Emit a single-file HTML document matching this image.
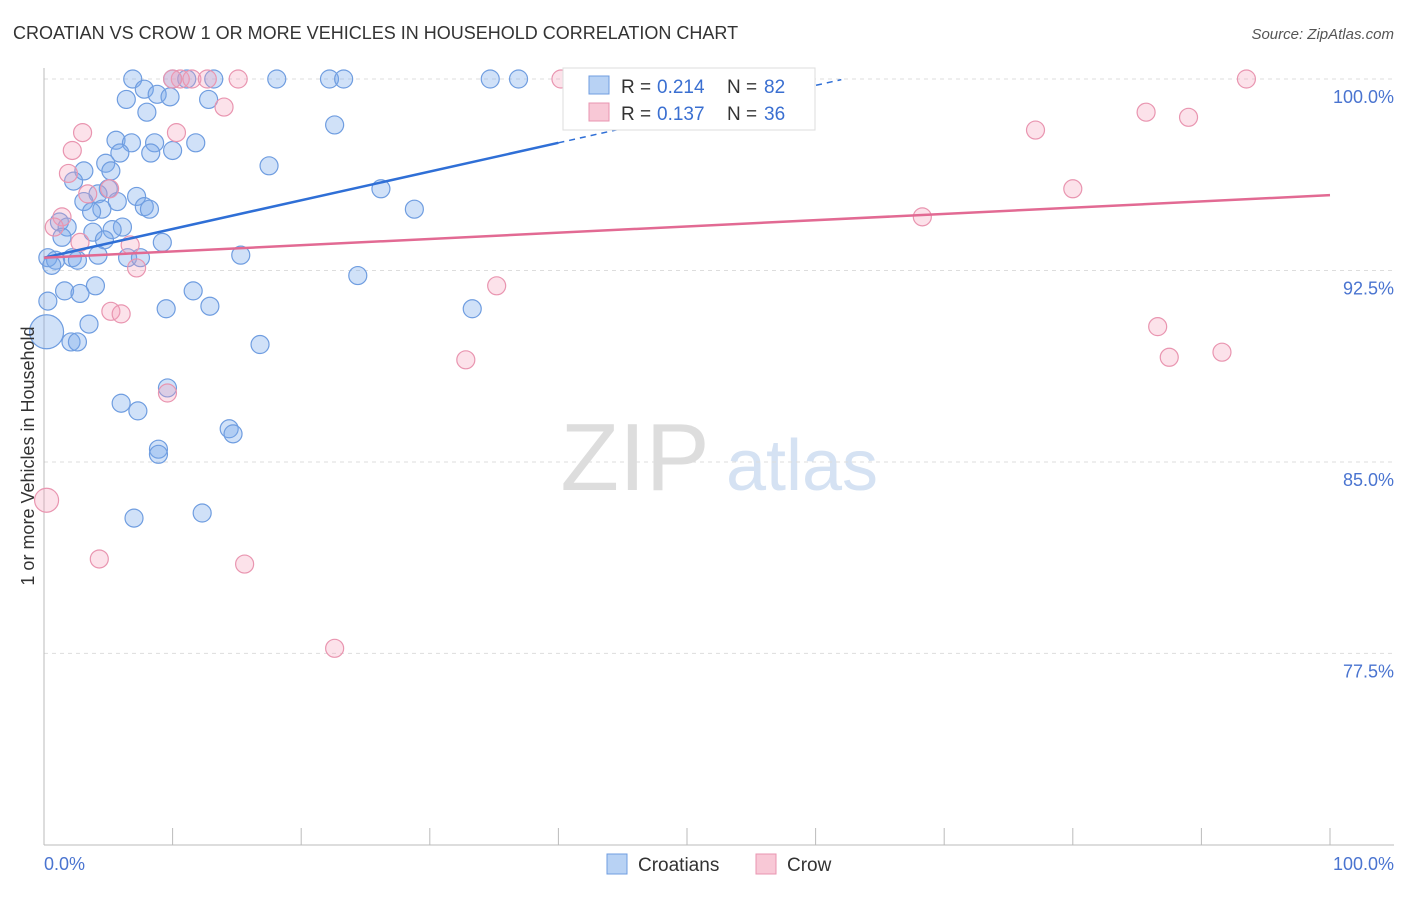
<!DOCTYPE html>
<html><head><meta charset="utf-8">
<style>
body{margin:0;background:#fff;font-family:"Liberation Sans",sans-serif;}
svg text{font-family:"Liberation Sans",sans-serif;}
</style></head>
<body>
<svg id="chart" width="1406" height="892" xmlns="http://www.w3.org/2000/svg">
<text x="13" y="39" font-size="18" fill="#333">CROATIAN VS CROW 1 OR MORE VEHICLES IN HOUSEHOLD CORRELATION CHART</text>
<text x="1394" y="39" font-size="15" fill="#555" text-anchor="end" font-style="italic">Source: ZipAtlas.com</text>
<g>
<text x="635" y="490" font-size="96" fill="#ddd" font-family="Liberation Serif" text-anchor="middle">ZIP</text>
<text x="802" y="490" font-size="72" fill="#d5e2f3" text-anchor="middle">atlas</text>
</g>
<g id="grid"></g>
<g id="axes"></g>
<g id="points"></g>
<g id="trends"></g>
<text transform="translate(34,456) rotate(-90)" font-size="18" fill="#333" text-anchor="middle">1 or more Vehicles in Household</text>
<text x="44" y="870" font-size="18" fill="#4a74d0">0.0%</text>
<text x="1394" y="870" font-size="18" fill="#4a74d0" text-anchor="end">100.0%</text>
<g>
<rect x="563" y="68" width="252" height="62" fill="#fff" stroke="#ddd"/>
<rect x="589" y="76" width="20" height="18" fill="#b8d2f4" stroke="#6f9de0"/>
<text x="621" y="93" font-size="19" fill="#333">R = </text>
<text x="657" y="93" font-size="19" fill="#3a6fd1">0.214</text>
<text x="727" y="93" font-size="19" fill="#333">N = </text>
<text x="764" y="93" font-size="19" fill="#3a6fd1">82</text>
<rect x="589" y="103" width="20" height="18" fill="#f8c8d6" stroke="#e995b0"/>
<text x="621" y="120" font-size="19" fill="#333">R = </text>
<text x="657" y="120" font-size="19" fill="#3a6fd1">0.137</text>
<text x="727" y="120" font-size="19" fill="#333">N = </text>
<text x="764" y="120" font-size="19" fill="#3a6fd1">36</text>
</g>
<g>
<rect x="607" y="854" width="20" height="20" fill="#b8d2f4" stroke="#6f9de0"/>
<text x="638" y="871" font-size="19" fill="#333">Croatians</text>
<rect x="756" y="854" width="20" height="20" fill="#f8c8d6" stroke="#e995b0"/>
<text x="787" y="871" font-size="19" fill="#333">Crow</text>
</g>
</svg>
<script>
const yTicks=[100,92.5,85,77.5];
const yTickLabels=["100.0%","92.5%","85.0%","77.5%"];
const xTicks=[0,10,20,30,40,50,60,70,80,90,100];
const blueX=[6.9,10.0,11.1,13.2,18.1,22.2,23.3,34.7,36.9,7.8,8.8,6.4,9.8,12.8,8.0,22.6,5.6,6.8,8.6,11.8,5.9,8.3,10.0,4.8,3.1,5.2,17.5,2.3,5.0,7.2,4.2,3.1,5.7,7.8,8.2,4.5,3.7,26.2,28.8,1.2,1.8,6.1,5.3,3.8,1.4,4.7,9.2,0.3,0.9,2.2,2.6,4.2,6.5,7.5,15.3,0.6,4.0,1.6,2.8,11.6,24.4,0.3,9.5,12.9,33.3,3.5,0.2,2.1,2.6,16.8,9.6,6.0,7.3,14.4,14.7,8.9,8.9,7.0,12.3];
const blueY=[100,100,100,100,100,100,100,100,100,99.6,99.4,99.2,99.3,99.2,98.7,98.2,97.6,97.5,97.5,97.5,97.1,97.1,97.2,96.7,96.4,96.4,96.6,96.0,95.7,95.4,95.5,95.2,95.2,95.0,94.9,94.9,94.8,95.7,94.9,94.4,94.2,94.2,94.1,94.0,93.8,93.7,93.6,93.0,92.9,93.0,92.9,93.1,93.0,93.0,93.1,92.7,91.9,91.7,91.6,91.7,92.3,91.3,91.0,91.1,91.0,90.4,90.1,89.7,89.7,89.6,87.9,87.3,87.0,86.3,86.1,85.5,85.3,82.8,83.0];
const blueR=[9,9,9,9,9,9,9,9,9,9,9,9,9,9,9,9,9,9,9,9,9,9,9,9,9,9,9,9,9,9,9,9,9,9,9,9,9,9,9,9,9,9,9,9,9,9,9,9,9,9,9,9,9,9,9,9,9,9,9,9,9,9,9,9,9,9,17,9,9,9,9,9,9,9,9,9,9,9,9];
const pinkX=[10.6,11.5,12.7,15.1,40.2,93.5,14.0,85.7,89.0,77.1,3.0,10.3,2.2,1.9,5.1,3.4,80.0,1.4,0.8,68.3,2.8,6.7,7.2,35.2,5.2,6.0,86.6,32.8,87.5,91.6,9.6,0.2,4.3,15.6,22.6,10.0];
const pinkY=[100,100,100,100,100,100,98.9,98.7,98.5,98.0,97.9,97.9,97.2,96.3,95.7,95.5,95.7,94.6,94.2,94.6,93.6,93.5,92.6,91.9,90.9,90.8,90.3,89.0,89.1,89.3,87.7,83.5,81.2,81.0,77.7,100];
const pinkR=[9,9,9,9,9,9,9,9,9,9,9,9,9,9,9,9,9,9,9,9,9,9,9,9,9,9,9,9,9,9,9,12,9,9,9,9];
const blueTrend=[93.0,104.25];
const pinkTrend=[93.0,95.45];
const NS="http://www.w3.org/2000/svg";
const X=v=>44+v*12.86;
const Y=v=>79+(100-v)*25.53;
function mk(tag,attrs,parent){const e=document.createElementNS(NS,tag);for(const k in attrs)e.setAttribute(k,attrs[k]);document.getElementById(parent).appendChild(e);return e;}
yTicks.forEach((t,i)=>{
 const l=mk('line',{x1:44,x2:1394,y1:Y(t),y2:Y(t),stroke:'#ddd','stroke-dasharray':'4,4'},'grid');
 
 
 const tx=mk('text',{x:1394,y:Y(t)+24,'font-size':18,fill:'#4a74d0','text-anchor':'end'},'grid');
 tx.textContent=yTickLabels[i];
 
 
});
const ax=mk('line',{x1:44,x2:44,y1:68,y2:845,stroke:'#bbb'},'axes');


const bx=mk('line',{x1:44,x2:1394,y1:845,y2:845,stroke:'#bbb'},'axes');


xTicks.forEach(t=>{
 const l=mk('line',{x1:X(t),x2:X(t),y1:828,y2:845,stroke:'#bbb'},'axes');
 
 
});
blueX.forEach((v,i)=>{
 const c=mk('circle',{cx:X(v),cy:Y(blueY[i]),r:blueR[i],fill:'rgba(120,170,235,0.35)',stroke:'#6f9de0','stroke-width':1.2},'points');
 
 
});
pinkX.forEach((v,i)=>{
 const c=mk('circle',{cx:X(v),cy:Y(pinkY[i]),r:pinkR[i],fill:'rgba(245,160,185,0.3)',stroke:'#e995b0','stroke-width':1.2},'points');
 
 
});
const bs=x=>blueTrend[0]+(blueTrend[1]-blueTrend[0])*x/100;
const b1=mk('line',{x1:X(0),y1:Y(bs(0)),x2:X(40),y2:Y(bs(40)),stroke:'#2f6fd6','stroke-width':2.5},'trends');


const b2=mk('line',{x1:X(40),y1:Y(bs(40)),x2:X(62),y2:Y(bs(62)),stroke:'#2f6fd6','stroke-width':1.5,'stroke-dasharray':'6,5'},'trends');


const p1=mk('line',{x1:X(0),y1:Y(pinkTrend[0]),x2:X(100),y2:Y(pinkTrend[1]),stroke:'#e26a93','stroke-width':2.5},'trends');


</script>
</body></html>
